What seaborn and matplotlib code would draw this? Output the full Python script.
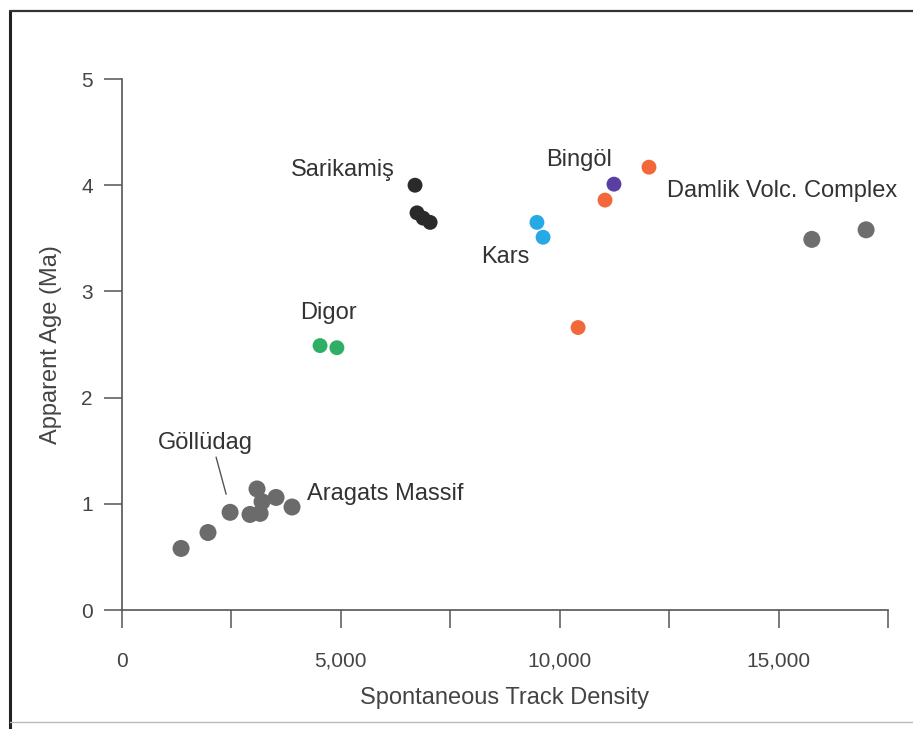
import matplotlib
matplotlib.use("Agg")
import matplotlib.pyplot as plt
from matplotlib.lines import Line2D
from matplotlib.ticker import FuncFormatter, MultipleLocator
import pandas as pd
import seaborn as sns

# Spontaneous fission-track density vs. apparent age, by volcanic centre
aragats_density = [1350, 1965, 2470, 3085, 2925, 3155, 3200, 3520, 3885]
aragats_age = [0.58, 0.73, 0.92, 1.14, 0.90, 0.91, 1.02, 1.06, 0.97]

damlik_density = [15760, 17000]
damlik_age = [3.49, 3.58]

sarikamis_density = [6695, 6740, 6880, 7040]
sarikamis_age = [4.00, 3.74, 3.69, 3.65]

kars_density = [9480, 9620]
kars_age = [3.65, 3.51]

digor_density = [4525, 4910]
digor_age = [2.49, 2.47]

bingol_density = [12040, 11035, 10420]
bingol_age = [4.17, 3.86, 2.66]

bingol_purple_density = [11240]
bingol_purple_age = [4.01]

group_colors = {
    "Aragats": "#6b6b6b",
    "Damlik": "#6e6e6e",
    "Sarikamis": "#2a2a2a",
    "Kars": "#27a9e6",
    "Digor": "#2fae66",
    "Bingol": "#f2683a",
    "BingolPurple": "#5a3fa3",
}

def frame(name, xs, ys):
    return pd.DataFrame({"density": xs, "age": ys, "group": name})

gray_df = pd.concat([
    frame("Aragats", aragats_density, aragats_age),
    frame("Damlik", damlik_density, damlik_age),
])
color_df = pd.concat([
    frame("Sarikamis", sarikamis_density, sarikamis_age),
    frame("Kars", kars_density, kars_age),
    frame("Digor", digor_density, digor_age),
    frame("Bingol", bingol_density, bingol_age),
    frame("BingolPurple", bingol_purple_density, bingol_purple_age),
])

sns.set_style("white")
plt.rcParams["font.family"] = ["Liberation Sans", "DejaVu Sans"]

fig = plt.figure(figsize=(9.13, 7.29), dpi=100)
ax = fig.add_axes([0.1336, 0.1632, 0.8390, 0.7284])

sns.scatterplot(data=gray_df, x="density", y="age", hue="group",
                palette=group_colors, s=150, linewidth=0, legend=False, ax=ax)
sns.scatterplot(data=color_df, x="density", y="age", hue="group",
                palette=group_colors, s=115, linewidth=0, legend=False, ax=ax)

ax.set_xlim(0, 17500)
ax.set_ylim(0, 5)
ax.xaxis.set_major_locator(MultipleLocator(2500))
ax.xaxis.set_major_formatter(
    FuncFormatter(lambda v, _: f"{int(v):,}" if v % 5000 == 0 else ""))
ax.yaxis.set_major_locator(MultipleLocator(1))
ax.yaxis.set_major_formatter(FuncFormatter(lambda v, _: f"{int(v)}"))

axis_color = "#555555"
text_color = "#444444"
for side in ("top", "right"):
    ax.spines[side].set_visible(False)
for side in ("left", "bottom"):
    ax.spines[side].set_color(axis_color)
    ax.spines[side].set_linewidth(1.2)
ax.tick_params(axis="both", direction="out", length=13, width=1.1,
               bottom=True, left=True,
               color=axis_color, labelcolor=text_color, labelsize=15)
ax.tick_params(axis="x", pad=17)
ax.tick_params(axis="y", pad=8)

ax.set_xlabel("Spontaneous Track Density", fontsize=17, color=text_color,
              labelpad=12)
ax.set_ylabel("Apparent Age (Ma)", fontsize=17, color=text_color, labelpad=14)

label_kw = dict(fontsize=17, color="#333333", va="center")
ax.text(6240, 4.14, "Sarikamiş", ha="right", **label_kw)
ax.text(9690, 4.24, "Bingöl", ha="left", **label_kw)
ax.text(12450, 3.95, "Damlik Volc. Complex", ha="left", **label_kw)
ax.text(8200, 3.32, "Kars", ha="left", **label_kw)
ax.text(4070, 2.80, "Digor", ha="left", **label_kw)
ax.text(820, 1.57, "Göllüdag", ha="left", **label_kw)
ax.text(4230, 1.09, "Aragats Massif", ha="left", **label_kw)
ax.plot([2150, 2380], [1.44, 1.09], color="#555555", lw=1.0)

# page border on the left and top edges
fig.add_artist(Line2D([0.011, 0.011], [0.0, 0.985], transform=fig.transFigure,
                      color="#222222", lw=2.2))
fig.add_artist(Line2D([0.011, 1.0], [0.985, 0.985], transform=fig.transFigure,
                      color="#333333", lw=1.6))
fig.add_artist(Line2D([0.011, 1.0], [0.01, 0.01], transform=fig.transFigure,
                      color="#bbbbbb", lw=1.0))

fig.savefig("out.png", dpi=100)
